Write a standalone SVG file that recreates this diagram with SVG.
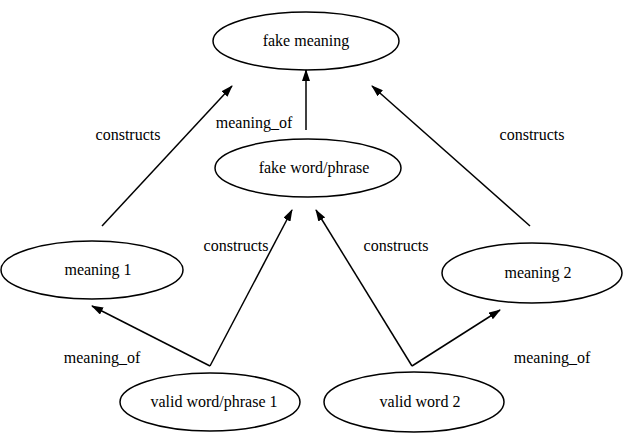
<svg xmlns="http://www.w3.org/2000/svg" width="624" height="440" viewBox="0 0 624 440">
<style>
ellipse{fill:none;stroke:#000;stroke-width:1.5}
text{font-family:'Liberation Serif','DejaVu Serif',serif;font-size:16px;fill:#000;text-anchor:middle}
line{stroke:#000;stroke-width:1.5;marker-end:url(#a)}
</style>
<defs><marker id="a" markerWidth="12" markerHeight="8" refX="11" refY="4" orient="auto" markerUnits="userSpaceOnUse"><path d="M0,0L12,4L0,8z" fill="#000"/></marker></defs>
<rect width="624" height="440" fill="#fff"/>
<g id="connectors">
<line x1="102" y1="226" x2="232" y2="86"/>
<line x1="530" y1="226" x2="372" y2="86"/>
<line x1="306" y1="130" x2="306" y2="70"/>
<line x1="210" y1="366" x2="292" y2="210"/>
<line x1="210" y1="366" x2="92" y2="306"/>
<line x1="412" y1="366" x2="316" y2="210"/>
<line x1="412" y1="366" x2="500" y2="310"/>
<text x="128" y="140">constructs</text>
<text x="532" y="140">constructs</text>
<text x="254" y="128">meaning_of</text>
<text x="236" y="251">constructs</text>
<text x="396" y="251">constructs</text>
<text x="102" y="363">meaning_of</text>
<text x="552" y="363">meaning_of</text>
</g>
<g id="fake_meaning"><ellipse cx="306" cy="41" rx="93" ry="29"/><text x="306" y="46">fake meaning</text></g>
<g id="fake_word"><ellipse cx="308" cy="168" rx="93" ry="29"/><text x="314" y="173">fake word/phrase</text></g>
<g id="meaning1"><ellipse cx="92" cy="270" rx="91" ry="29"/><text x="98" y="275">meaning 1</text></g>
<g id="meaning2"><ellipse cx="532" cy="273" rx="90" ry="30"/><text x="538" y="278">meaning 2</text></g>
<g id="valid1"><ellipse cx="210" cy="402" rx="90" ry="29"/><text x="214" y="407">valid word/phrase 1</text></g>
<g id="valid2"><ellipse cx="414" cy="402" rx="90" ry="30"/><text x="420" y="407">valid word 2</text></g>
</svg>
